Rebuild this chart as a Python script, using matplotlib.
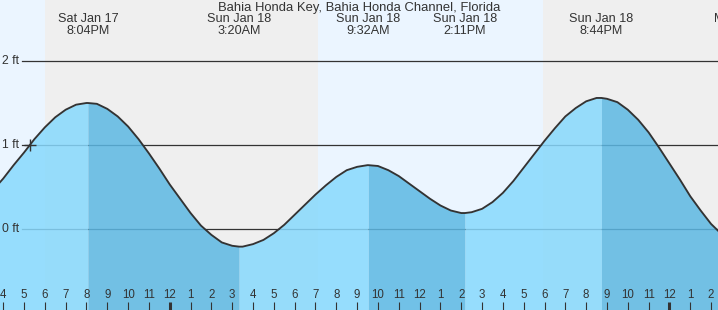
import matplotlib
matplotlib.use("Agg")
import matplotlib.pyplot as plt
import matplotlib.transforms as mtransforms

plt.rcParams['font.family'] = ['Liberation Sans', 'DejaVu Sans']

# ---- data (hours counted from Sat Jan 17 00:00) ----
title = "Bahia Honda Key, Bahia Honda Channel, Florida"

tide_t = [15.5, 16.0, 16.5, 17.0, 17.5, 18.0, 18.5, 19.0, 19.5, 20.0, 20.067,
          20.5, 21.0, 21.5, 22.0, 22.5, 23.0, 23.5, 24.0, 24.5, 25.0, 25.5,
          26.0, 26.5, 27.0, 27.333, 27.5, 28.0, 28.5, 29.0, 29.5, 30.0, 30.5,
          31.0, 31.5, 32.0, 32.5, 33.0, 33.5, 33.533, 34.0, 34.5, 35.0, 35.5,
          36.0, 36.5, 37.0, 37.5, 38.0, 38.183, 38.5, 39.0, 39.5, 40.0, 40.5,
          41.0, 41.5, 42.0, 42.5, 43.0, 43.5, 44.0, 44.5, 44.733, 45.0, 45.5,
          46.0, 46.5, 47.0, 47.5, 48.0, 48.5, 49.0, 49.5, 50.0, 50.5]
tide_ft = [0.46, 0.60, 0.76, 0.91, 1.07, 1.21, 1.33, 1.42, 1.48, 1.50, 1.50,
           1.49, 1.43, 1.34, 1.22, 1.07, 0.90, 0.72, 0.53, 0.36, 0.19, 0.04,
           -0.07, -0.16, -0.20, -0.21, -0.21, -0.18, -0.13, -0.05, 0.05, 0.17, 0.29,
           0.41, 0.52, 0.62, 0.70, 0.74, 0.76, 0.76, 0.75, 0.70, 0.63, 0.54,
           0.45, 0.36, 0.28, 0.22, 0.19, 0.19, 0.20, 0.24, 0.32, 0.43, 0.57,
           0.73, 0.89, 1.05, 1.20, 1.34, 1.44, 1.52, 1.56, 1.56, 1.55, 1.51,
           1.42, 1.30, 1.15, 0.97, 0.78, 0.59, 0.39, 0.22, 0.06, -0.06]

# tide extremes (times, kind) and their labels
ext_t = [20.067, 27.333, 33.533, 38.183, 44.733, 51.75]
ext_kind = ["H", "L", "H", "L", "H", "L"]
ext_day = ["Sat Jan 17", "Sun Jan 18", "Sun Jan 18", "Sun Jan 18", "Sun Jan 18", "Mon Jan 19"]
ext_time = ["8:04PM", "3:20AM", "9:32AM", "2:11PM", "8:44PM", "3:45AM"]

# sunset / sunrise times
sunset_1 = 18.0
sunrise_2 = 31.12
sunset_2 = 41.93

# hour ticks
tick_hours = list(range(16, 51))
tick_labels = ["4", "5", "6", "7", "8", "9", "10", "11", "12", "1", "2", "3",
               "4", "5", "6", "7", "8", "9", "10", "11", "12", "1", "2", "3",
               "4", "5", "6", "7", "8", "9", "10", "11", "12", "1", "2"]

y_levels = [2, 1, 0]
y_labels = ["2 ft", "1 ft", "0 ft"]

now_t, now_ft = 17.287, 1.0

# ---- style ----
W, H = 718, 310
px_per_hr = 20.82
x0_px = 3.2            # pixel of 16:00
px_per_ft = 84.0
y0_px = 229.0          # pixel of 0 ft
xmin = 16 + (0 - x0_px) / px_per_hr
xmax = 16 + (W - x0_px) / px_per_hr
ymin = -(H - y0_px) / px_per_ft
ymax = y0_px / px_per_ft

DAY = "#ebf5ff"
NIGHT = "#efefef"
RISE = "#87d9fd"
FALL = "#5cb8e3"
INK = "#333333"

fig = plt.figure(figsize=(W / 100, H / 100), dpi=100)
ax = fig.add_axes([0, 0, 1, 1])
ax.set_xlim(xmin, xmax)
ax.set_ylim(ymin, ymax)
ax.set_axis_off()

# day / night background
ax.axvspan(xmin, sunset_1, color=DAY, lw=0, zorder=0)
ax.axvspan(sunset_1, sunrise_2, color=NIGHT, lw=0, zorder=0)
ax.axvspan(sunrise_2, sunset_2, color=DAY, lw=0, zorder=0)
ax.axvspan(sunset_2, xmax, color=NIGHT, lw=0, zorder=0)

# grid lines
yt = mtransforms.blended_transform_factory(ax.transAxes, ax.transData)
for lv, lab in zip(y_levels, y_labels):
    ax.axhline(lv, xmin=22 / W, xmax=1, color=INK, lw=0.9, zorder=1)
    ax.text(2 / W, lv, lab, transform=yt,
            ha="left", va="center", fontsize=8.7, color=INK, zorder=5)

# fills: rising light, falling dark
bounds = [tide_t[0]] + ext_t
for i in range(len(bounds) - 1):
    a, b = bounds[i], bounds[i + 1]
    idx = [k for k, t in enumerate(tide_t) if a <= t <= b]
    if not idx:
        continue
    xs = [tide_t[k] for k in idx]
    ys = [tide_ft[k] for k in idx]
    col = RISE if ext_kind[i] == "H" else FALL
    ax.fill_between(xs, ys, ymin, color=col, alpha=0.85, lw=0, zorder=2)

ax.plot(tide_t, tide_ft, color=INK, lw=1.35, zorder=3, solid_joinstyle="round")
ax.plot([now_t], [now_ft], marker="+", ms=8, mew=1.0, color=INK, zorder=4)

# extreme labels
xt = mtransforms.blended_transform_factory(ax.transData, ax.transAxes)
for t, d, tm in zip(ext_t, ext_day, ext_time):
    ax.text(t, 1 - 19.5 / H, d, transform=xt,
            ha="center", va="center", fontsize=9.1, color=INK, zorder=5)
    ax.text(t, 1 - 31.5 / H, tm, transform=xt,
            ha="center", va="center", fontsize=9.1, color=INK, zorder=5)

fig.text(359.5 / W, 1 - 7.5 / H, title, ha="center", va="center", fontsize=9.35, color=INK)

# hour ticks and labels
for hr, lab in zip(tick_hours, tick_labels):
    midnight = (hr % 24 == 0)
    ax.plot([hr, hr], [0, 8 / H], transform=xt, color=INK,
            lw=2.2 if midnight else 0.8, solid_capstyle="butt", zorder=5)
    ax.text(hr, 14.5 / H, lab, transform=xt, ha="center", va="center",
            fontsize=8.3, color=INK, zorder=5)

fig.savefig("out.png", dpi=100)
